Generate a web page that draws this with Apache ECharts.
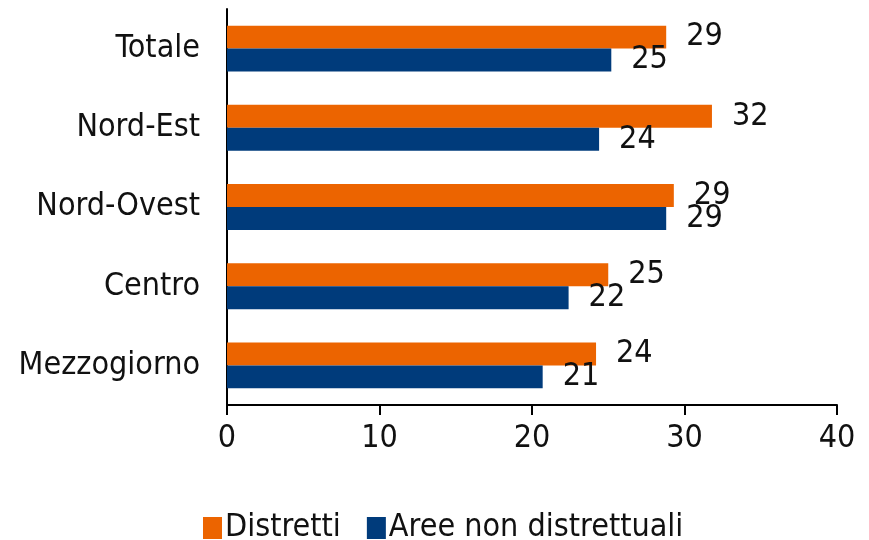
<!DOCTYPE html>
<html>
<head>
<meta charset="utf-8">
<script src="https://cdn.jsdelivr.net/npm/echarts@6/dist/echarts.min.js"></script>
<style>
  html, body { margin: 0; padding: 0; background: #fff; }
  #chart { width: 869px; height: 540px; }
</style>
</head>
<body>
<div id="chart"></div>
<script>
const categories = ['Totale', 'Nord-Est', 'Nord-Ovest', 'Centro', 'Mezzogiorno'];
const distretti = [28.8, 31.8, 29.3, 25.0, 24.2];
const areeNonDistrettuali = [25.2, 24.4, 28.8, 22.4, 20.7];
const xTicks = [0, 10, 20, 30, 40];

const font = '"Liberation Sans Narrow", "DejaVu Sans Condensed", sans-serif';

var chart = echarts.init(document.getElementById('chart'));

var labelStyle = {
  show: true,
  position: 'right',
  distance: 20,
  color: '#111',
  fontSize: 32,
  fontFamily: font,
  formatter: p => Math.round(p.value)
};

var option = {
  animation: false,
  grid: { left: 227, right: 32, top: 9, bottom: 135 },
  legend: {
    left: 198,
    top: 507,
    itemWidth: 19,
    itemHeight: 22,
    itemGap: 26,
    icon: 'rect',
    textStyle: { fontSize: 32, fontFamily: font, color: '#111', padding: [0, 0, 0, -2] },
    data: ['Distretti', 'Aree non distrettuali']
  },
  xAxis: {
    type: 'value',
    min: xTicks[0],
    max: xTicks[xTicks.length - 1],
    interval: 10,
    axisLine: { show: true, lineStyle: { color: '#000', width: 2 } },
    axisTick: { show: true, length: 10, lineStyle: { color: '#000', width: 2 } },
    axisLabel: { color: '#111', fontSize: 32, fontFamily: font, margin: 18 },
    splitLine: { show: false }
  },
  yAxis: {
    type: 'category',
    inverse: true,
    data: categories,
    axisLine: { show: true, lineStyle: { color: '#000', width: 2 } },
    axisTick: { show: false },
    axisLabel: { color: '#111', fontSize: 32, fontFamily: font, margin: 27 }
  },
  series: [
    {
      name: 'Distretti',
      type: 'bar',
      data: distretti,
      barGap: '0%',
      barCategoryGap: '42%',
      itemStyle: { color: '#EC6400' },
      label: labelStyle
    },
    {
      name: 'Aree non distrettuali',
      type: 'bar',
      data: areeNonDistrettuali,
      itemStyle: { color: '#003B7B' },
      label: labelStyle
    }
  ]
};

chart.setOption(option);
</script>
</body>
</html>
